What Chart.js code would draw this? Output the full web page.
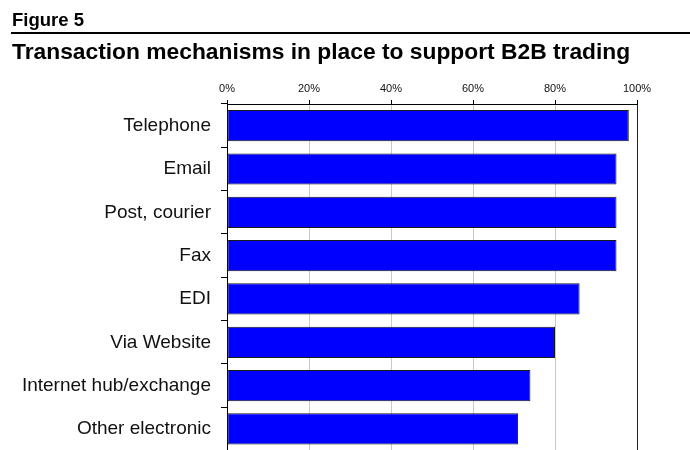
<!DOCTYPE html>
<html>
<head>
<meta charset="utf-8">
<script src="https://cdn.jsdelivr.net/npm/chart.js@4.4.0/dist/chart.umd.min.js"></script>
<style>
  html, body { margin: 0; padding: 0; background: #fff; overflow: hidden; }
  body { width: 690px; height: 450px; position: relative; font-family: "Liberation Sans", Arial, sans-serif; }
  #fig { position: absolute; left: 12px; top: 9px; font-size: 18.5px; font-weight: bold; color: #000; }
  #rule { position: absolute; left: 11px; right: 0; top: 32px; height: 2px; background: #000; }
  #title { position: absolute; left: 12px; top: 38px; font-size: 22.8px; font-weight: bold; color: #000; white-space: nowrap; }
  #wrap { position: absolute; left: 0; top: 0; width: 690px; height: 472px; }
</style>
</head>
<body>
<div id="wrap"><canvas id="myChart" width="690" height="472"></canvas></div>
<div id="fig">Figure 5</div>
<div id="rule"></div>
<div id="title">Transaction mechanisms in place to support B2B trading</div>
<script>
// Share of firms using each mechanism (%)
const mechanisms = ['Telephone', 'Email', 'Post, courier', 'Fax', 'EDI', 'Via Website', 'Internet hub/exchange', 'Other electronic'];
const shares = [98, 95, 95, 95, 86, 80, 74, 71];
const pctTicks = [0, 20, 40, 60, 80, 100];

const fontFamily = '"Liberation Sans", Arial, sans-serif';

const ctx = document.getElementById('myChart').getContext('2d');
new Chart(ctx, {
    type: 'bar',
    data: {
        labels: mechanisms,
        datasets: [{
            data: shares,
            backgroundColor: '#0000ff',
            borderColor: '#1a1a1a',
            borderWidth: 1,
            borderSkipped: false,
            barPercentage: 0.72,
            categoryPercentage: 1
        }]
    },
    options: {
        indexAxis: 'y',
        responsive: false,
        animation: false,
        layout: { padding: { left: 0, right: 53, top: 0, bottom: 8 } },
        plugins: {
            legend: { display: false },
            tooltip: { enabled: false }
        },
        scales: {
            x: {
                position: 'top',
                min: 0,
                max: 100,
                afterFit: s => { s.height = 104; },
                afterBuildTicks: s => { s.ticks = pctTicks.map(v => ({ value: v })); },
                ticks: {
                    callback: v => v + '%',
                    color: '#111',
                    padding: 4,
                    font: { family: fontFamily, size: 11 }
                },
                grid: {
                    color: c => (c.tick && c.tick.value === 100) ? '#222' : '#c8c8c8',
                    tickColor: '#000',
                    tickLength: 4,
                    lineWidth: 1
                },
                border: { color: '#000', width: 1 }
            },
            y: {
                afterFit: s => { s.width = 227; },
                ticks: {
                    color: '#111',
                    padding: 10,
                    font: { family: fontFamily, size: 19 }
                },
                grid: {
                    drawOnChartArea: false,
                    tickColor: '#000',
                    tickLength: 6,
                    offset: true
                },
                border: { color: '#000', width: 1 }
            }
        }
    }
});
</script>
</body>
</html>
